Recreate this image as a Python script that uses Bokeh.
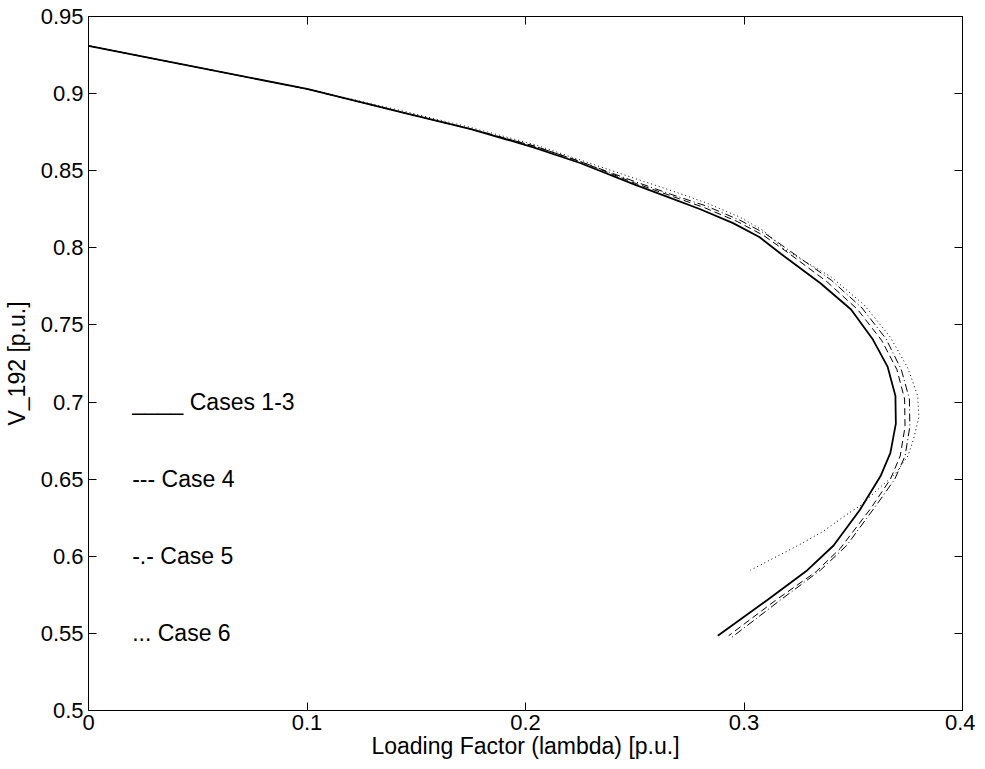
from bokeh.plotting import figure
from bokeh.models import LinearAxis, FixedTicker, Range1d
from bokeh.core.properties import value
from bokeh.embed import file_html
from bokeh.resources import INLINE

# Cases 1-3 (solid)
lam1 = [0.000, 0.050, 0.100, 0.143, 0.175, 0.204, 0.225, 0.250, 0.265, 0.280, 0.295, 0.307, 0.317, 0.335, 0.349, 0.359, 0.3657, 0.3693, 0.3695, 0.367, 0.3625, 0.353, 0.341, 0.329, 0.311, 0.288]
v1 = [0.931, 0.917, 0.903, 0.888, 0.877, 0.865, 0.855, 0.841, 0.833, 0.825, 0.816, 0.807, 0.796, 0.777, 0.760, 0.7405, 0.723, 0.704, 0.686, 0.667, 0.652, 0.630, 0.607, 0.591, 0.572, 0.5485]

# Case 4 (dashed)
lam4 = [0.000, 0.050, 0.100, 0.143, 0.175, 0.204, 0.225, 0.250, 0.266, 0.282, 0.297, 0.309, 0.320, 0.338, 0.352, 0.363, 0.370, 0.3735, 0.3737, 0.3715, 0.367, 0.358, 0.344, 0.333, 0.315, 0.293]
v4 = [0.931, 0.917, 0.903, 0.888, 0.877, 0.866, 0.856, 0.842, 0.834, 0.826, 0.817, 0.808, 0.797, 0.778, 0.760, 0.740, 0.721, 0.702, 0.684, 0.665, 0.650, 0.631, 0.605, 0.590, 0.572, 0.5485]

# Case 5 (dash-dot)
lam5 = [0.000, 0.050, 0.100, 0.143, 0.175, 0.204, 0.225, 0.250, 0.266, 0.283, 0.298, 0.310, 0.321, 0.340, 0.354, 0.365, 0.372, 0.3757, 0.3759, 0.3737, 0.369, 0.361, 0.347, 0.335, 0.317, 0.294]
v5 = [0.931, 0.917, 0.903, 0.888, 0.877, 0.866, 0.856, 0.843, 0.835, 0.827, 0.818, 0.809, 0.798, 0.779, 0.761, 0.741, 0.721, 0.702, 0.684, 0.665, 0.650, 0.634, 0.607, 0.591, 0.572, 0.547]

# Case 6 (dotted)
lam6 = [0.000, 0.050, 0.100, 0.143, 0.175, 0.204, 0.225, 0.250, 0.267, 0.283, 0.298, 0.309, 0.3185, 0.340, 0.355, 0.367, 0.375, 0.3795, 0.380, 0.3776, 0.375, 0.369, 0.3625, 0.353, 0.349, 0.336, 0.326, 0.303]
v6 = [0.931, 0.917, 0.903, 0.889, 0.878, 0.867, 0.857, 0.845, 0.837, 0.829, 0.820, 0.811, 0.799, 0.781, 0.763, 0.742, 0.722, 0.704, 0.690, 0.676, 0.665, 0.653, 0.645, 0.6325, 0.629, 0.616, 0.608, 0.591]

label_x = [0.02, 0.02, 0.02, 0.02]
label_y = [0.70, 0.65, 0.60, 0.55]
label_text = ["____ Cases 1-3", "--- Case 4", "-.- Case 5", "... Case 6"]

x_ticks = [0.0, 0.1, 0.2, 0.3, 0.4]
x_tick_labels = ["0", "0.1", "0.2", "0.3", "0.4"]
y_ticks = [0.5, 0.55, 0.6, 0.65, 0.7, 0.75, 0.8, 0.85, 0.9, 0.95]
y_tick_labels = ["0.5", "0.55", "0.6", "0.65", "0.7", "0.75", "0.8", "0.85", "0.9", "0.95"]

FONT = "Liberation Sans"

p = figure(width=975, height=761, output_backend="svg", toolbar_location=None,
           x_range=Range1d(0, 0.4), y_range=Range1d(0.5, 0.95),
           min_border_left=88, min_border_right=13, min_border_top=16, min_border_bottom=49)
p.grid.visible = False
p.outline_line_color = "black"
p.outline_line_width = 1
p.background_fill_color = "white"

for ax in [p.xaxis[0], p.yaxis[0]]:
    ax.major_tick_in = 8
    ax.major_tick_out = 0
    ax.minor_tick_in = 0
    ax.minor_tick_out = 0
    ax.axis_line_color = "black"
    ax.major_tick_line_color = "black"
    ax.major_label_text_font = FONT
    ax.major_label_text_font_size = "22px"
    ax.major_label_text_color = "black"
    ax.axis_label_text_font = FONT
    ax.axis_label_text_font_size = "23px"
    ax.axis_label_text_font_style = "normal"
    ax.axis_label_text_color = "black"

p.xaxis[0].ticker = FixedTicker(ticks=x_ticks)
p.xaxis[0].major_label_overrides = dict(zip(x_ticks, x_tick_labels))
p.xaxis[0].axis_label = "Loading Factor (lambda) [p.u.]"
p.xaxis[0].major_label_standoff = 4
p.xaxis[0].axis_label_standoff = 0

p.yaxis[0].ticker = FixedTicker(ticks=y_ticks)
p.yaxis[0].major_label_overrides = dict(zip(y_ticks, y_tick_labels))
p.yaxis[0].axis_label = "V_192 [p.u.]"
p.yaxis[0].major_label_standoff = 5
p.yaxis[0].axis_label_standoff = 8

top = LinearAxis(ticker=FixedTicker(ticks=x_ticks), major_label_overrides={t: "" for t in x_ticks},
                 major_tick_in=8, major_tick_out=0, minor_tick_in=0, minor_tick_out=0,
                 axis_line_color="black", major_tick_line_color="black", major_label_standoff=0)
right = LinearAxis(ticker=FixedTicker(ticks=y_ticks), major_label_overrides={t: "" for t in y_ticks},
                   major_tick_in=8, major_tick_out=0, minor_tick_in=0, minor_tick_out=0,
                   axis_line_color="black", major_tick_line_color="black", major_label_standoff=0)
p.add_layout(top, "above")
p.add_layout(right, "right")

p.line(lam6, v6, line_color="black", line_width=1, line_dash="1 3")
p.line(lam5, v5, line_color="black", line_width=1, line_dash="8 3 1 3")
p.line(lam4, v4, line_color="black", line_width=1, line_dash="7 4")
p.line(lam1, v1, line_color="black", line_width=1.8)

p.text(x=label_x, y=label_y, text=label_text, text_font=value(FONT), text_font_size="23px",
       text_baseline="middle", text_align="left", text_color="black")

open("out.html", "w").write(file_html(p, INLINE))
